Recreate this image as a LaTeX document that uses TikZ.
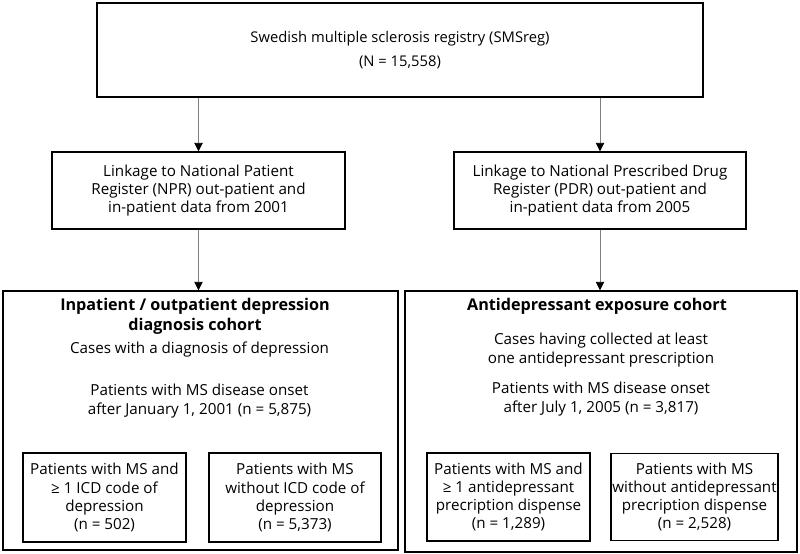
\documentclass[tikz,border=0pt]{standalone}
\usepackage{fontspec}
\setmainfont{Open Sans}
\usetikzlibrary{positioning,arrows.meta}

\begin{document}
\begin{tikzpicture}[x=0.025cm,y=-0.025cm,
 box/.style={draw,line width=1pt,align=center,inner sep=0pt,font=\fontsize{10.8}{12.9}\selectfont},
 txt/.style={align=center,inner sep=0pt,font=\fontsize{10.8}{12.9}\selectfont},
 head/.style={align=center,inner sep=0pt,font=\fontsize{11.5}{14.2}\selectfont\bfseries},
 link/.style={gray,line width=0.6pt,-{Triangle[color=black,width=6pt,length=6pt]}}]

  \useasboundingbox (0,0) rectangle (800,553);

  % registry and linkage
  \node[box,minimum width=15.15cm,minimum height=2.35cm,
        font=\fontsize{10.5}{17}\selectfont] (smsreg) at (400,50)
        {Swedish multiple sclerosis registry (SMSreg)\\(N = 15,558)};
  \node[box,minimum width=7.325cm,minimum height=1.925cm] (npr) at (198.5,190.5)
        {Linkage to National Patient\\Register (NPR) out-patient and\\in-patient data from 2001};
  \node[box,minimum width=7.3cm,minimum height=1.925cm] (pdr) at (600,190.5)
        {Linkage to National Prescribed Drug\\Register (PDR) out-patient and\\in-patient data from 2005};

  % cohorts
  \node[box,minimum width=9.875cm,minimum height=6.475cm] (diagco) at (200.5,420.5) {};
  \node[box,minimum width=9.8cm,minimum height=6.525cm] (drugco) at (601,421.5) {};

  \node[head] (diaghead) at (195,316) {Inpatient / outpatient depression\\diagnosis cohort};
  \node[txt] (diagcases) at (199.5,350) {Cases with a diagnosis of depression};
  \node[txt] (diagonset) at (199.5,401) {Patients with MS disease onset\\after January 1, 2001 (n = 5,875)};

  \node[head] (drughead) at (597,306) {Antidepressant exposure cohort};
  \node[txt] (drugcases) at (601,350) {Cases having collected at least\\one antidepressant prescription};
  \node[txt] (drugonset) at (601,399) {Patients with MS disease onset\\after July 1, 2005 (n = 3,817)};

  % sub-groups
  \node[box,minimum width=4.075cm,minimum height=2.225cm] (diagyes) at (104.5,497.5)
        {Patients with MS and\\≥ 1 ICD code of\\depression\\(n = 502)};
  \node[box,minimum width=4.3cm,minimum height=2.225cm] (diagno) at (295,497.5)
        {Patients with MS\\without ICD code of\\depression\\(n = 5,373)};
  \node[box,minimum width=4.075cm,minimum height=2.2cm] (drugyes) at (508.5,497)
        {Patients with MS and\\≥ 1 antidepressant\\precription dispense\\(n = 1,289)};
  \node[box,minimum width=4.175cm,minimum height=2.175cm] (drugno) at (694.5,497)
        {Patients with MS\\without antidepressant\\precription dispense\\(n = 2,528)};

  \draw[link] (smsreg.south -| npr.north) -- (npr.north);
  \draw[link] (smsreg.south -| pdr.north) -- (pdr.north);
  \draw[link] (npr.south) -- (npr.south |- diagco.north);
  \draw[link] (pdr.south) -- (pdr.south |- drugco.north);
\end{tikzpicture}
\end{document}
